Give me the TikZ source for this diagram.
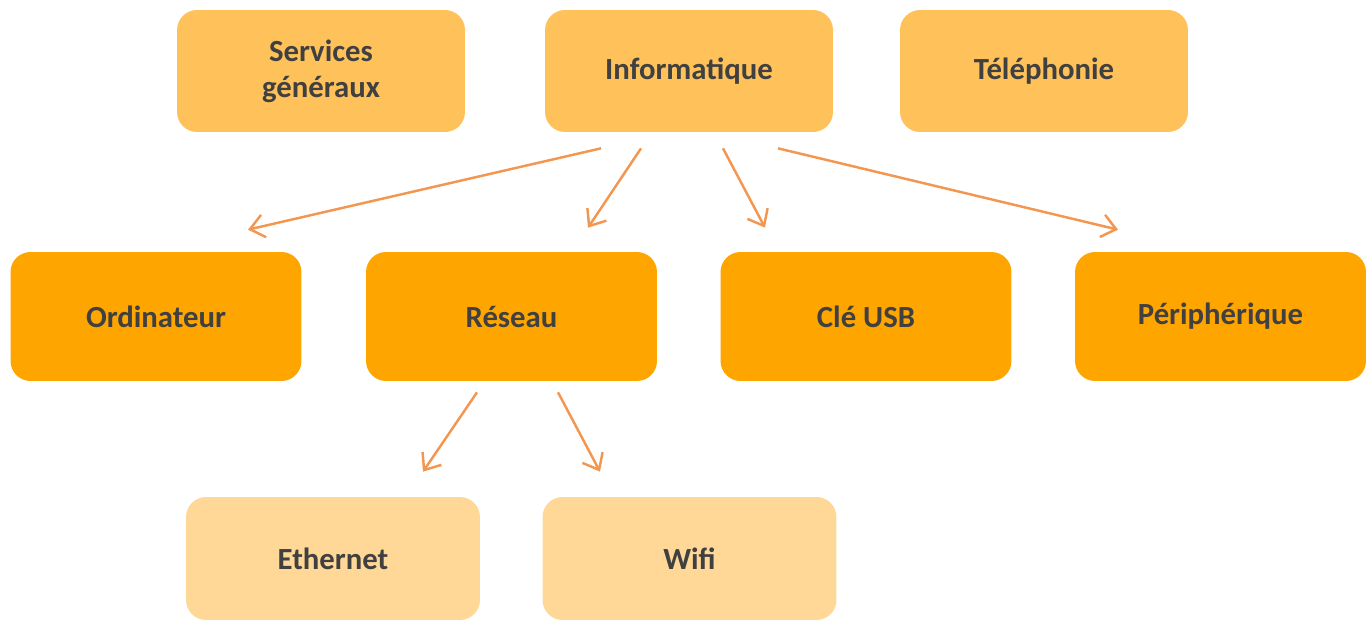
\documentclass[tikz,border=0pt]{standalone}
\usepackage{fontspec}
\setmainfont{Carlito}
\usepackage{tikz}
\usetikzlibrary{calc}
\usetikzlibrary{arrows.meta}
\definecolor{topfill}{RGB}{255,193,89}
\definecolor{midfill}{RGB}{255,165,0}
\definecolor{lowfill}{RGB}{255,215,150}
\definecolor{arrowline}{RGB}{243,150,80}
\definecolor{boxtext}{RGB}{64,64,64}

\begin{document}
\begin{tikzpicture}[x=0.02cm,y=-0.02cm,
  box/.style={rounded corners=0.4cm, text=boxtext, align=center, inner sep=0pt,
    font=\fontsize{17.5}{20.5}\selectfont\bfseries},
  topbox/.style={box, fill=topfill, minimum width=5.76cm, minimum height=2.44cm},
  midbox/.style={box, fill=midfill, minimum width=5.82cm, minimum height=2.58cm},
  lowbox/.style={box, fill=lowfill, minimum width=5.88cm, minimum height=2.46cm},
  arr/.style={draw=arrowline, line width=1.4pt, -{Straight Barb[length=8pt,width=13pt]}}]
  \useasboundingbox (0,0) rectangle (1368,622);
  % top row
  \node [topbox] (serv) at (321,71) {Services\\généraux};
  \node [topbox] (info) at (689,71) {Informatique};
  \node [topbox] (tele) at (1044,71) {Téléphonie};
  % middle row
  \node [midbox] (ordi) at (156,316.5) {Ordinateur};
  \node [midbox] (res) at (511.5,316.5) {Réseau};
  \node [midbox] (cle) at (866,316.5) {Clé USB};
  \node [midbox] (peri) at (1220.5,316.5) {Périphérique};
  % bottom row
  \node [lowbox] (eth) at (333,558.5) {Ethernet};
  \node [lowbox] (wifi) at (689.5,558.5) {Wifi};
  % arrows
  \draw [arr] ($(info.south)+(-88,16)$) -- ($(ordi.north)+(92,-22)$);
  \draw [arr] ($(info.south)+(-48,16)$) -- ($(res.north)+(76.5,-24)$);
  \draw [arr] ($(info.south)+(34,16)$) -- ($(cle.north)+(-101,-24)$);
  \draw [arr] ($(info.south)+(89,16)$) -- ($(peri.north)+(-102.5,-22)$);
  \draw [arr] ($(res.south)+(-34.5,11)$) -- ($(eth.north)+(90,-25)$);
  \draw [arr] ($(res.south)+(46.5,11)$) -- ($(wifi.north)+(-89.5,-25)$);
\end{tikzpicture}
\end{document}
